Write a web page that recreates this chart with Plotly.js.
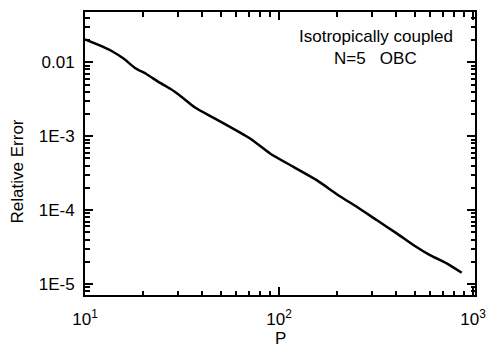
<!DOCTYPE html>
<html><head><meta charset="utf-8">
<script src="https://cdn.plot.ly/plotly-3.0.1.min.js"></script>
<style>html,body{margin:0;padding:0;background:#fff}#c{width:487px;height:345px}</style>
</head><body><div id="c"></div>
<script>
const P = [10, 12.4, 14.0, 15.8, 18.1, 20.8, 23.9, 27.4, 31.5, 36.9, 46.8, 70.9, 89.9, 118.5, 156.4, 202.2, 251.5, 318.8, 404.4, 492.4, 600.2, 731.8, 874.7];
const relErr = [0.0203, 0.0161, 0.01377, 0.01122, 0.00837, 0.00688, 0.00542, 0.00441, 0.0034, 0.00244, 0.00173, 0.000931, 0.000584, 0.000385, 0.000254, 0.000159, 0.000111, 7.33e-5, 4.84e-5, 3.37e-5, 2.46e-5, 1.9e-5, 1.42e-5];
const xTickVals = [10, 100, 1000];
const xTickText = ['10<sup>1</sup>', '10<sup>2</sup>', '10<sup>3</sup>'];
const yTickVals = [0.01, 1e-3, 1e-4, 1e-5];
const yTickText = ['0.01', '1E-3', '1E-4', '1E-5'];
const xTitle = 'P';
const yTitle = 'Relative Error';
const noteLines = ['Isotropically coupled', 'N=5   OBC'];

function minors(lo, hi) {
  const v = [];
  for (let e = lo; e <= hi; e++) for (let m = 2; m <= 9; m++) v.push(m * Math.pow(10, e));
  return v;
}
function F() { return {family: 'Arial, Liberation Sans, sans-serif', size: 17, color: '#000'}; }
function base() {
  return {type: 'log', showgrid: false, zeroline: false, showline: true, linewidth: 2, linecolor: '#000',
    mirror: 'ticks', ticks: 'inside', ticklen: 8, tickwidth: 2, tickcolor: '#000', tickfont: F()};
}
function minorTicks(vals) {
  return {tickvals: vals, ticks: 'inside', ticklen: 4.5, tickwidth: 2, tickcolor: '#000'};
}
const xaxis = Object.assign(base(), {
  range: [1, 3.0103], tickvals: xTickVals, ticktext: xTickText, ticklabelstandoff: 8,
  minor: minorTicks(minors(1, 2))
});
const yaxis = Object.assign(base(), {
  range: [-5.1486, -1.3203], tickvals: yTickVals, ticktext: yTickText, ticklabelstandoff: 5,
  minor: minorTicks(minors(-6, -2))
});
const notes = noteLines.map((t, i) => ({
  text: t, xref: 'paper', yref: 'paper', x: 0.745, y: 0.915 - i * 0.078,
  xanchor: 'center', yanchor: 'middle', showarrow: false, font: F()
}));
notes.push({text: xTitle, xref: 'paper', yref: 'paper', x: 0.5, y: -0.155,
  xanchor: 'center', yanchor: 'middle', showarrow: false, font: F()});
notes.push({text: yTitle, xref: 'paper', yref: 'paper', x: -0.173, y: 0.435, textangle: -90,
  xanchor: 'center', yanchor: 'middle', showarrow: false, font: F()});
const layout = {
  width: 487, height: 345,
  margin: {l: 85, r: 12, t: 12, b: 50},
  showlegend: false,
  font: F(),
  xaxis: xaxis,
  yaxis: yaxis,
  annotations: notes
};
Plotly.newPlot('c', [
  {x: P, y: relErr, type: 'scatter', mode: 'lines',
   line: {color: '#000', width: 2.5, shape: 'spline', smoothing: 0.6}}
], layout, {staticPlot: true});
</script></body></html>
